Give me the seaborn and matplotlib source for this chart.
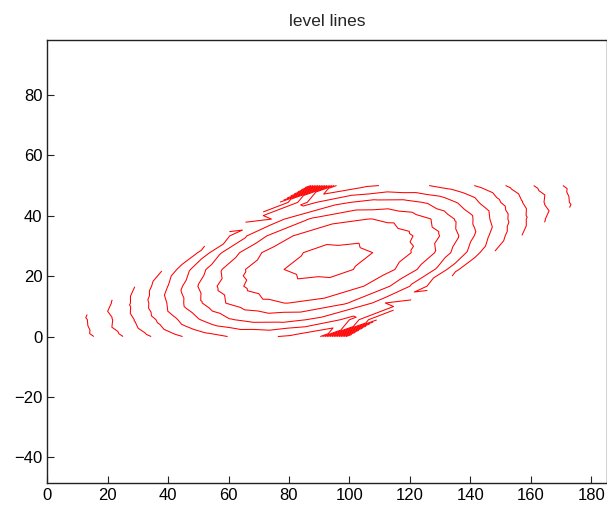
import matplotlib
matplotlib.use("Agg")
import matplotlib.pyplot as plt
import matplotlib.tri as mtri
import seaborn as sns

# mesh: 11 nodes along the bottom edge, 10 rows, sheared parallelogram
x_bottom = [0.7, 10.59, 20.48, 30.37, 40.26, 50.15, 60.04, 69.93, 79.82, 89.71, 99.6]
y_rows = [0.0, 5.56, 11.11, 16.67, 22.22, 27.78, 33.33, 38.89, 44.44, 50.0]
shear = 1.715  # x offset per unit of y

# values at the nodes (row by row, bottom to top)
z_rows = [
    [-0.49, 0.53, 1.49, 2.58, 3.61, 4.46, 5.02, 5.20, 4.89, 4.21, 17.0],
    [0.65, 1.78, 3.17, 4.54, 5.91, 6.89, 7.36, 7.33, 6.80, 5.76, 8.90],
    [1.76, 3.33, 4.99, 6.76, 8.03, 8.77, 9.02, 8.80, 8.09, 6.85, 7.33],
    [3.04, 4.85, 6.88, 8.43, 9.36, 9.79, 9.83, 9.49, 8.71, 7.30, 5.55],
    [4.10, 6.28, 8.14, 9.35, 10.00, 10.27, 10.16, 9.66, 8.73, 7.11, 4.64],
    [4.64, 7.11, 8.73, 9.66, 10.16, 10.27, 10.00, 9.35, 8.14, 6.28, 4.10],
    [5.55, 7.30, 8.71, 9.49, 9.83, 9.79, 9.36, 8.43, 6.88, 4.85, 3.04],
    [7.33, 6.85, 8.09, 8.80, 9.02, 8.77, 8.03, 6.76, 4.99, 3.33, 1.76],
    [8.90, 5.76, 6.80, 7.33, 7.36, 6.89, 5.91, 4.54, 3.17, 1.78, 0.65],
    [17.0, 4.21, 4.89, 5.20, 5.02, 4.46, 3.61, 2.58, 1.49, 0.53, -0.49],
]
levels = list(range(1, 17))

nx = len(x_bottom)
ny = len(y_rows)
xs, ys, zs = [], [], []
for j in range(ny):
    for i in range(nx):
        xs.append(x_bottom[i] + shear * y_rows[j])
        ys.append(y_rows[j])
        zs.append(z_rows[j][i])

tris = []
for j in range(ny - 1):
    for i in range(nx - 1):
        k = j * nx + i
        tris.append([k, k + 1, k + nx + 1])
        tris.append([k, k + nx + 1, k + nx])
mesh = mtri.Triangulation(xs, ys, tris)

sns.set_theme(style="white")
plt.rcParams["font.family"] = ["Liberation Sans", "DejaVu Sans"]
plt.rcParams["xtick.direction"] = "in"
plt.rcParams["ytick.direction"] = "in"

fig = plt.figure(figsize=(6.07, 5.15), dpi=100)
ax = fig.add_axes([0.0777, 0.0616, 0.9223, 0.8607])

ax.tricontour(mesh, zs, levels=levels, colors="red", linewidths=0.75)

ax.set_xlim(0, 185.2)
ax.set_ylim(-48.6, 98.2)
ax.set_xticks(range(0, 181, 20))
ax.set_yticks(range(-40, 81, 20))
ax.tick_params(axis="both", labelsize=12, length=5, width=0.8, colors="#222222",
               labelcolor="black", bottom=True, left=True, top=False, right=False)
for side in ["left", "bottom", "top", "right"]:
    ax.spines[side].set_color("#222222")
    ax.spines[side].set_linewidth(1.0)
ax.set_title("level lines", fontsize=12.5, pad=10)

fig.savefig("out.png", dpi=100)
